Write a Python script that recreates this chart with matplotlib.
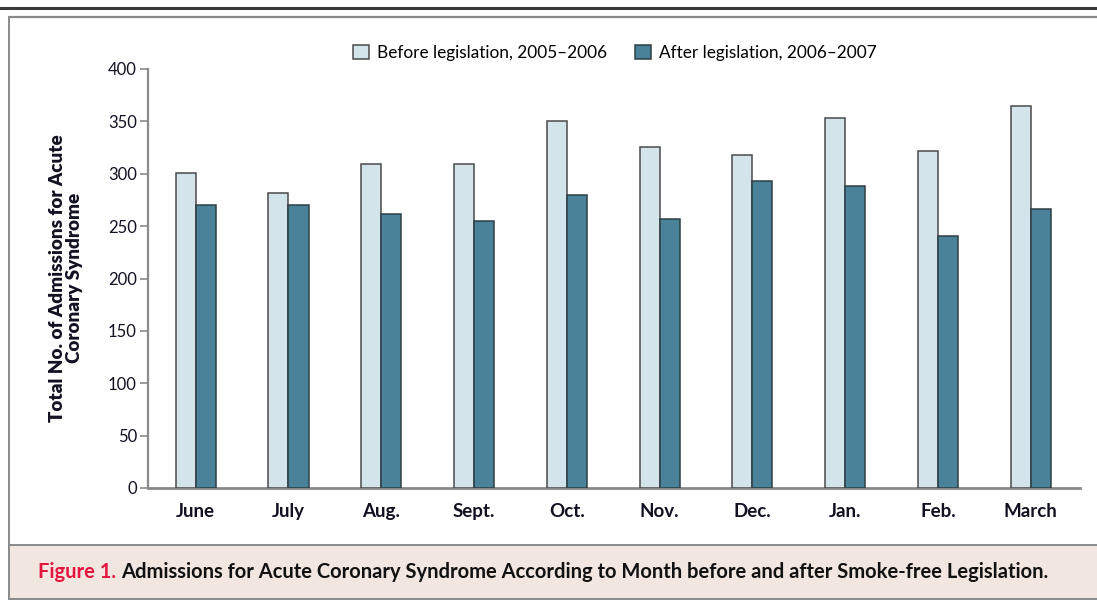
import matplotlib.pyplot as plt
import numpy as np
from matplotlib.patches import Rectangle
from matplotlib.lines import Line2D

months = ["June", "July", "Aug.", "Sept.", "Oct.", "Nov.", "Dec.", "Jan.", "Feb.", "March"]
before = [301, 282, 309, 309, 350, 326, 318, 353, 322, 365]
after = [270, 270, 262, 255, 280, 257, 293, 288, 241, 266]
yticks = [0, 50, 100, 150, 200, 250, 300, 350, 400]

plt.rcParams['font.family'] = ['Lato', 'DejaVu Sans']

W, H = 1097, 601
fig = plt.figure(figsize=(W / 100, H / 100), dpi=100)


def fx(px):
    return px / W


def fy(py):
    return 1 - py / H


# page decorations: rules, frame and caption band
fig.add_artist(Rectangle((fx(10), fy(599)), 1, fy(545) - fy(599), transform=fig.transFigure,
                         facecolor="#f2e6e1", edgecolor="none", zorder=0))
for (x0, y0, x1, y1, c, lw) in [
        (0, 8, W, 8, "#3a3a3a", 2.2),
        (10, 17, W, 17, "#8a8a8a", 1.6),
        (9, 17, 9, 599, "#8a8a8a", 1.4),
        (10, 545, W, 545, "#8a8a8a", 1.4),
        (10, 599, W, 599, "#8a8a8a", 1.4)]:
    fig.add_artist(Line2D([fx(x0), fx(x1)], [fy(y0), fy(y1)], transform=fig.transFigure,
                          color=c, lw=lw))

ax = fig.add_axes([fx(148), fy(488), fx(1080) - fx(148), fy(69) - fy(488)])
x = np.arange(len(months))
w = 0.216
ax.bar(x - w / 2, before, width=w, color="#d4e4eb", edgecolor="#4a4a4a", linewidth=1.1,
       label="Before legislation, 2005\u20132006", zorder=3)
ax.bar(x + w / 2, after, width=w, color="#4a8399", edgecolor="#2e3e45", linewidth=1.1,
       label="After legislation, 2006\u20132007", zorder=3)

ax.set_xlim(-0.514, 9.53)
ax.set_ylim(0, 400)
ax.set_yticks(yticks)
ax.set_xticks(x)
ax.set_xticklabels(months, fontsize=13.5, fontweight="bold", color="#111122")
ax.tick_params(axis="x", length=0, pad=11)
ax.tick_params(axis="y", length=6, width=1.2, color="#8a8a8a", labelsize=12,
               labelcolor="#111122", pad=2)
for s in ["top", "right"]:
    ax.spines[s].set_visible(False)
ax.spines["left"].set_color("#8a8a8a")
ax.spines["left"].set_linewidth(1.6)
ax.spines["bottom"].set_color("#8a8a8a")
ax.spines["bottom"].set_linewidth(2)

fig.text(fx(66), fy(278), "Total No. of Admissions for Acute\nCoronary Syndrome",
         rotation=90, ha="center", va="center", fontsize=13.6, fontweight="heavy",
         color="#111122", linespacing=1.0)

fig.legend(loc="center", bbox_to_anchor=(fx(615), fy(53)), ncol=2, frameon=False,
           fontsize=12.4, handlelength=0.9, handleheight=0.9, handletextpad=0.5,
           columnspacing=1.6)

# caption
t1 = fig.text(fx(38), fy(572), "Figure 1.", fontsize=14.5, fontweight="bold",
              color="#e3153f", ha="left", va="center")
fig.canvas.draw()
bb = t1.get_window_extent()
fig.text(bb.x1 / W + fx(5), fy(572),
         "Admissions for Acute Coronary Syndrome According to Month before and after Smoke-free Legislation.",
         fontsize=14.5, fontweight="bold", color="#111111", ha="left", va="center")

fig.savefig("out.png", dpi=100)
